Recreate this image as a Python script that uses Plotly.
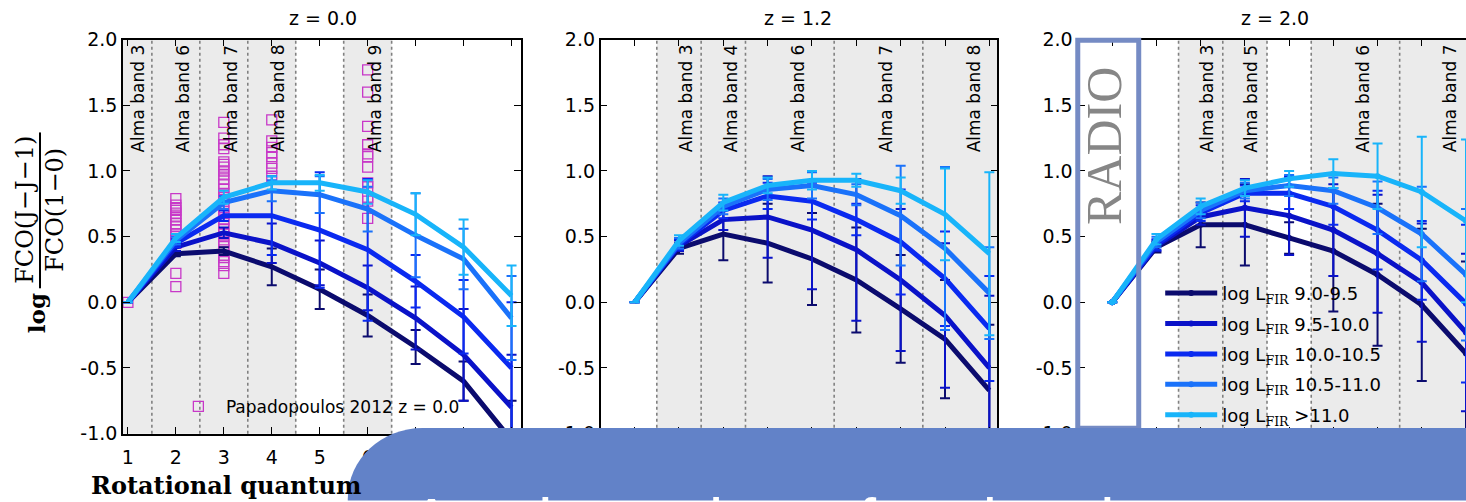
import plotly.graph_objects as go

W, H = 1466, 502

# ---------------- data ----------------
J = [1, 2, 3, 4, 5, 6, 7, 8, 9]
fir_bins = ["9.0-9.5", "9.5-10.0", "10.0-10.5", "10.5-11.0", ">11.0"]
fir_colors = ["#0b0b6e", "#0a12c8", "#0a2af0", "#1a72fa", "#18b4fa"]

# z = 0.0
z00_fir1 = [0, 0.37, 0.39, 0.27, 0.10, -0.10, -0.34, -0.60, -1.05]
z00_fir2 = [0, 0.42, 0.53, 0.45, 0.30, 0.11, -0.12, -0.40, -0.80]
z00_fir3 = [0, 0.45, 0.66, 0.66, 0.55, 0.40, 0.16, -0.11, -0.50]
z00_fir4 = [0, 0.47, 0.76, 0.85, 0.82, 0.71, 0.51, 0.33, -0.12]
z00_fir5 = [0, 0.49, 0.80, 0.91, 0.91, 0.84, 0.67, 0.42, 0.05]
z00_err1 = [0, 0.02, 0.03, 0.14, 0.15, 0.16, 0.13, 0.15, 0.30]
z00_err2 = [0, 0.03, 0.04, 0.15, 0.17, 0.17, 0.24, 0.35, 0.40]
z00_err3 = [0, 0.03, 0.04, 0.30, 0.44, 0.54, 0.20, 0.28, 0.50]
z00_err4 = [0, 0.03, 0.05, 0.08, 0.14, 0.17, 0.32, 0.23, 0.32]
z00_err5 = [0, 0.03, 0.05, 0.05, 0.06, 0.09, 0.16, 0.21, 0.23]

# z = 1.2
z12_fir1 = [0, 0.41, 0.52, 0.45, 0.33, 0.17, -0.05, -0.28, -0.67]
z12_fir2 = [0, 0.43, 0.63, 0.65, 0.55, 0.40, 0.17, -0.10, -0.50]
z12_fir3 = [0, 0.44, 0.70, 0.81, 0.77, 0.63, 0.46, 0.18, -0.20]
z12_fir4 = [0, 0.45, 0.73, 0.86, 0.89, 0.82, 0.66, 0.41, 0.07]
z12_fir5 = [0, 0.47, 0.76, 0.89, 0.93, 0.93, 0.85, 0.67, 0.37]
z12_err1 = [0, 0.04, 0.20, 0.30, 0.35, 0.40, 0.41, 0.45, 0.50]
z12_err2 = [0, 0.04, 0.08, 0.31, 0.45, 0.54, 0.54, 0.55, 0.55]
z12_err3 = [0, 0.04, 0.06, 0.10, 0.14, 0.12, 0.40, 0.36, 0.40]
z12_err4 = [0, 0.04, 0.06, 0.08, 0.10, 0.08, 0.38, 0.62, 0.35]
z12_err5 = [0, 0.04, 0.06, 0.06, 0.07, 0.05, 0.10, 0.35, 0.62]

# z = 2.0
z20_fir1 = [0, 0.42, 0.59, 0.59, 0.49, 0.39, 0.21, -0.02, -0.39]
z20_fir2 = [0, 0.43, 0.65, 0.72, 0.66, 0.55, 0.37, 0.15, -0.23]
z20_fir3 = [0, 0.44, 0.68, 0.83, 0.83, 0.73, 0.55, 0.32, -0.01]
z20_fir4 = [0, 0.46, 0.70, 0.85, 0.89, 0.85, 0.72, 0.52, 0.21]
z20_fir5 = [0, 0.48, 0.73, 0.87, 0.94, 0.98, 0.96, 0.84, 0.62]
z20_err1 = [0, 0.04, 0.17, 0.31, 0.12, 0.46, 0.54, 0.58, 0.70]
z20_err2 = [0, 0.04, 0.06, 0.22, 0.30, 0.35, 0.45, 0.45, 0.60]
z20_err3 = [0, 0.04, 0.06, 0.06, 0.12, 0.14, 0.30, 0.30, 0.60]
z20_err4 = [0, 0.04, 0.06, 0.06, 0.08, 0.10, 0.20, 0.36, 0.50]
z20_err5 = [0, 0.04, 0.06, 0.06, 0.06, 0.11, 0.25, 0.42, 0.62]

# Papadopoulos 2012 (z = 0.0) observed ratios
pap_J1 = [0.0]
pap_J2 = [0.12, 0.22, 0.45, 0.50, 0.52, 0.55, 0.58, 0.60, 0.63, 0.65, 0.68, 0.70, 0.72, 0.74, 0.79]
pap_J3 = [0.22, 0.28, 0.31, 0.34, 0.36, 0.40, 0.43, 0.46, 0.50, 0.52, 0.56, 0.60, 0.63, 0.66,
          0.69, 0.72, 0.77, 0.80, 0.83, 0.86, 0.90, 0.94, 0.97, 1.00, 1.03, 1.05, 1.07, 1.17,
          1.20, 1.25, 1.37]
pap_J4 = [0.96, 1.02, 1.06, 1.11, 1.14, 1.18, 1.23, 1.39]
pap_J6 = [0.64, 0.77, 0.80, 0.88, 0.91, 1.03, 1.11, 1.13, 1.20, 1.34, 1.60, 1.77]

# ALMA bands: (low J, high J, label, label position)
bands_z00 = [(0.5, 1.5, "Alma band 3", 1.21), (1.5, 2.5, "Alma band 6", 2.15),
             (2.5, 3.5, "Alma band 7", 3.15), (3.5, 4.5, "Alma band 8", 4.12),
             (5.5, 6.5, "Alma band 9", 6.15)]
bands_z12 = [(1.5, 2.5, "Alma band 3", 2.15), (2.5, 3.5, "Alma band 4", 3.17),
             (3.5, 5.5, "Alma band 6", 4.68), (5.5, 7.5, "Alma band 7", 6.67),
             (7.5, 9.6, "Alma band 8", 8.65)]
bands_z20 = [(2.5, 3.5, "Alma band 3", 3.14), (3.5, 4.5, "Alma band 5", 4.12),
             (5.5, 7.5, "Alma band 6", 6.65), (7.5, 9.6, "Alma band 7", 8.63)]
dots_z00 = [1.5, 2.5, 3.5, 4.5, 5.5, 6.5]
dots_z12 = [1.5, 2.5, 3.5, 5.5, 7.5]
dots_z20 = [2.5, 3.5, 4.5, 5.5, 7.5]

yticks = [-1.0, -0.5, 0.0, 0.5, 1.0, 1.5, 2.0]
ytick_text = ["-1.0", "-0.5", "0.0", "0.5", "1.0", "1.5", "2.0"]
titles = ["z = 0.0", "z = 1.2", "z = 2.0"]

# ---------------- figure ----------------
def fx(p):
    return p / W

def fy(p):
    return 1 - p / H

SANS = "DejaVu Sans"
SERIF = "DejaVu Serif"

panels = [
    dict(vals=[z00_fir1, z00_fir2, z00_fir3, z00_fir4, z00_fir5],
         errs=[z00_err1, z00_err2, z00_err3, z00_err4, z00_err5],
         bands=bands_z00, dots=dots_z00, dom=(122, 520), rng=[0.896, 9.19], sfx=""),
    dict(vals=[z12_fir1, z12_fir2, z12_fir3, z12_fir4, z12_fir5],
         errs=[z12_err1, z12_err2, z12_err3, z12_err4, z12_err5],
         bands=bands_z12, dots=dots_z12, dom=(600, 997), rng=[0.232, 9.18], sfx="2"),
    dict(vals=[z20_fir1, z20_fir2, z20_fir3, z20_fir4, z20_fir5],
         errs=[z20_err1, z20_err2, z20_err3, z20_err4, z20_err5],
         bands=bands_z20, dots=dots_z20, dom=(1078, 1466), rng=[0.232, 9.0], sfx="3"),
]

fig = go.Figure()

# Papadopoulos squares (panel 1)
pap_x = [1] * len(pap_J1) + [2] * len(pap_J2) + [3] * len(pap_J3) + [4] * len(pap_J4) + [6] * len(pap_J6)
pap_y = pap_J1 + pap_J2 + pap_J3 + pap_J4 + pap_J6
fig.add_trace(go.Scatter(
    x=pap_x, y=pap_y, mode="markers", name="Papadopoulos 2012 z = 0.0",
    marker=dict(symbol="square-open", size=10, color="#c838c8", line=dict(width=1.3)),
    xaxis="x", yaxis="y", legend="legend2", showlegend=True))

for pi, p in enumerate(panels):
    for si in range(5):
        col = fir_colors[si]
        is_last = pi == 2
        nm = ("log L<sub><span style=\"font-family:DejaVu Serif\">FIR</span></sub> "
              + (fir_bins[si] if si < 4 else "<span style=\"font-family:DejaVu Serif\">&gt;</span>11.0"))
        fig.add_trace(go.Scatter(
            x=J, y=p["vals"][si], name=nm,
            mode="lines+markers" if is_last else "lines",
            line=dict(color=col, width=5),
            marker=dict(size=6, color=col),
            error_y=dict(type="data", array=p["errs"][si], color=col, thickness=2, width=5),
            xaxis="x" + p["sfx"], yaxis="y" + p["sfx"],
            legendgroup="g%d" % si, showlegend=is_last, legend="legend"))

shapes = []
annotations = []
axis_common = dict(showline=True, linecolor="black", linewidth=1.5, ticks="inside",
                   ticklen=7, tickwidth=1, tickcolor="black", showgrid=False,
                   zeroline=False, tickfont=dict(family=SANS, size=19, color="black"))
layout = dict(width=W, height=H, margin=dict(l=0, r=0, t=0, b=0),
              paper_bgcolor="white", plot_bgcolor="white", showlegend=True)

ydom = [fy(442), fy(30)]
for pi, p in enumerate(panels):
    s = p["sfx"]
    xa = "xaxis" + s
    ya = "yaxis" + s
    xr = "x" + s
    yr = "y" + s
    layout[xa] = dict(axis_common, domain=[fx(p["dom"][0]), fx(p["dom"][1])],
                      range=p["rng"], tickvals=J, anchor=yr,
                      mirror="ticks", ticklabelstandoff=6)
    layout[ya] = dict(axis_common, domain=ydom, range=[-1.0, 2.0], tickvals=yticks,
                      ticktext=ytick_text, anchor=xr,
                      mirror=("ticks" if pi < 2 else False))
    lo_lim, hi_lim = p["rng"]
    for (lo, hi, lab, lx) in p["bands"]:
        shapes.append(dict(type="rect", xref=xr, yref=yr + " domain",
                           x0=max(lo, lo_lim), x1=min(hi, hi_lim), y0=0, y1=1,
                           fillcolor="#ebebeb", line=dict(width=0), layer="below"))
        annotations.append(dict(xref=xr, yref="paper", x=lx, y=fy(33), text=lab,
                                textangle=-90, showarrow=False, xanchor="center",
                                yanchor="top", font=dict(family=SANS, size=17, color="black")))
    for d in p["dots"]:
        shapes.append(dict(type="line", xref=xr, yref=yr + " domain", x0=d, x1=d,
                           y0=0, y1=1, line=dict(color="#808080", width=1.6, dash="dot"),
                           layer="below"))
    cx = [322, 798, 1275][pi]
    annotations.append(dict(xref="paper", yref="paper", x=fx(cx), y=fy(7), text=titles[pi],
                            showarrow=False, xanchor="center", yanchor="middle",
                            font=dict(family=SANS, size=19, color="black")))

# y-axis label (log of flux ratio)
annotations.append(dict(xref="paper", yref="paper", x=fx(35), y=fy(316), text="<b>log</b>",
                        textangle=-90, showarrow=False, xanchor="center", yanchor="middle",
                        font=dict(family=SERIF, size=23, color="black")))
annotations.append(dict(xref="paper", yref="paper", x=fx(24), y=fy(208), text="FCO(J\u2212J\u22121)",
                        textangle=-90, showarrow=False, xanchor="center", yanchor="middle",
                        font=dict(family=SERIF, size=24, color="black")))
annotations.append(dict(xref="paper", yref="paper", x=fx(54), y=fy(208), text="FCO(1\u22120)",
                        textangle=-90, showarrow=False, xanchor="center", yanchor="middle",
                        font=dict(family=SERIF, size=24, color="black")))
shapes.append(dict(type="line", xref="paper", yref="paper", x0=fx(39), x1=fx(39),
                   y0=fy(127), y1=fy(290), line=dict(color="black", width=2)))
# x-axis label
annotations.append(dict(xref="paper", yref="paper", x=fx(88), y=fy(496),
                        text="<b>Rotational quantum</b>", showarrow=False,
                        xanchor="left", yanchor="middle",
                        font=dict(family=SERIF, size=24, color="black")))

# RADIO box
shapes.append(dict(type="rect", xref="paper", yref="paper", x0=fx(1077.5), x1=fx(1138.5),
                   y0=fy(436.5), y1=fy(30.5), line=dict(color="#758bc4", width=5),
                   fillcolor="rgba(0,0,0,0)", layer="above"))
annotations.append(dict(xref="paper", yref="paper", x=fx(1104), y=fy(141), text="RADIO",
                        textangle=-90, showarrow=False, xanchor="center", yanchor="middle",
                        font=dict(family="Liberation Serif", size=50, color="#868686")))

# overlay panel at the bottom with rounded top-left corner
def P(x, y):
    return "%.5f,%.5f" % (fx(x), fy(y))

path = ("M " + P(347, 512) + " L " + P(347, 510) + " C " + P(347, 468.6) + " " + P(380.6, 436)
        + " " + P(422, 436) + " L " + P(1480, 436) + " L " + P(1480, 512) + " Z")
shapes.append(dict(type="path", xref="paper", yref="paper", path=path,
                   fillcolor="#6282c8", line=dict(width=0), layer="above"))
annotations.append(dict(xref="paper", yref="paper", x=fx(407), y=fy(494.5),
                        text="A unique view of molecular gas", showarrow=False,
                        xanchor="left", yanchor="top",
                        font=dict(family="Liberation Sans", size=64, color="white")))

layout["shapes"] = shapes
layout["annotations"] = annotations
layout["legend"] = dict(x=fx(1160), y=fy(276), xanchor="left", yanchor="top",
                        bgcolor="rgba(0,0,0,0)", font=dict(family=SANS, size=18, color="black"),
                        tracegroupgap=4, itemwidth=52)
layout["legend2"] = dict(x=fx(170), y=fy(414), xanchor="left", yanchor="middle",
                         bgcolor="rgba(0,0,0,0)", font=dict(family=SANS, size=17, color="black"),
                         itemwidth=45)
fig.update_layout(**layout)
fig.write_html("out.html")
